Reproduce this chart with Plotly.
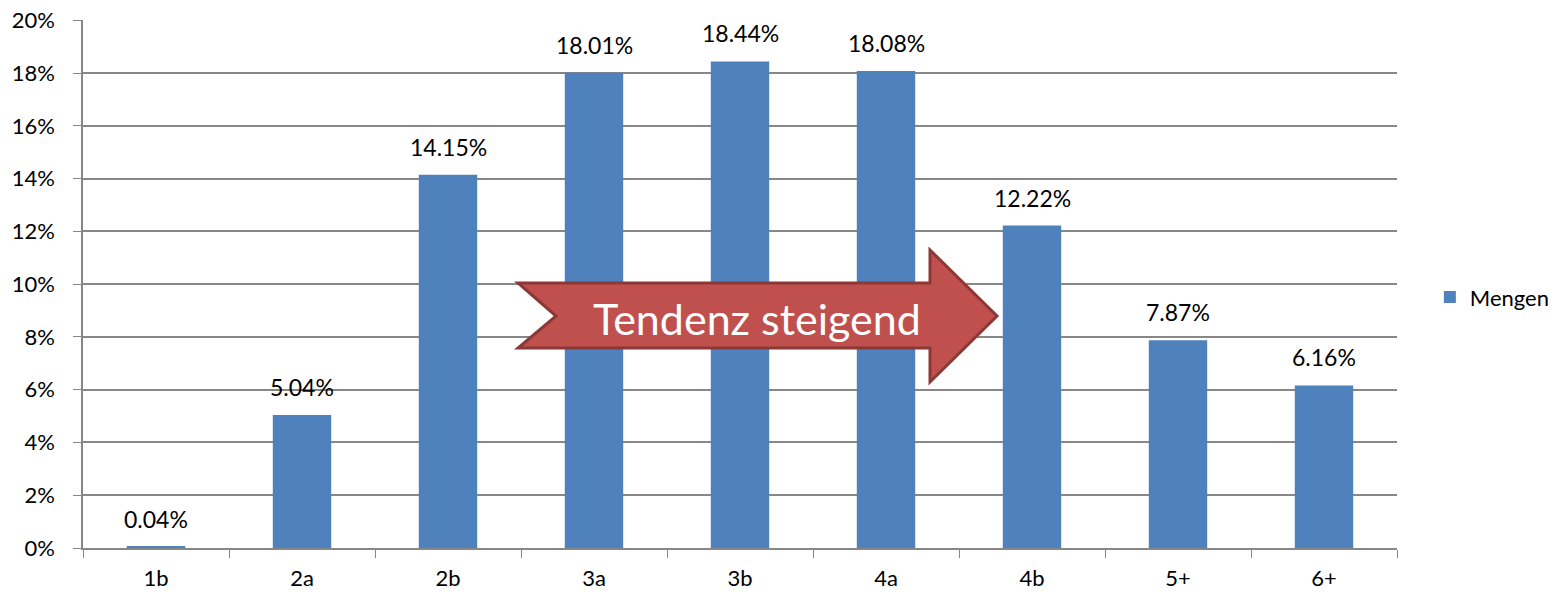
import plotly.graph_objects as go

kategorien = ["1b", "2a", "2b", "3a", "3b", "4a", "4b", "5+", "6+"]
mengen = [0.04, 5.04, 14.15, 18.01, 18.44, 18.08, 12.22, 7.87, 6.16]
labels = ["0.04%", "5.04%", "14.15%", "18.01%", "18.44%", "18.08%", "12.22%", "7.87%", "6.16%"]
y_ticks = [0, 2, 4, 6, 8, 10, 12, 14, 16, 18, 20]
y_ticktext = [f"{v}%" for v in y_ticks]

font = "Lato, 'Open Sans', sans-serif"

fig = go.Figure()
fig.add_trace(go.Bar(x=kategorien, y=mengen, name="Mengen",
                     marker=dict(color="#4F81BD", line=dict(width=0))))

# data labels a bit above each bar
for k, v, t in zip(kategorien, mengen, labels):
    fig.add_annotation(x=k, y=v, text=t, showarrow=False, yanchor="bottom", yshift=12,
                       font=dict(size=23, color="#000000", family=font))

# notched arrow in paper coordinates
arrow = ("M 0.3311 0.5019 L 0.6446 0.5019 L 0.6446 0.5644 L 0.6956 0.4394 "
         "L 0.6446 0.3144 L 0.6446 0.3788 L 0.3311 0.3788 L 0.3600 0.4394 Z")
fig.add_shape(type="path", path=arrow, xref="paper", yref="paper",
              fillcolor="#C0504D", line=dict(color="#8C3836", width=3), layer="above")
fig.add_annotation(text="Tendenz steigend", xref="paper", yref="paper",
                   x=0.513, y=0.435, showarrow=False,
                   font=dict(size=43, color="#FFFFFF", family=font))

fig.update_layout(
    width=1563, height=595,
    margin=dict(l=83, r=166, t=20, b=47, autoexpand=False),
    plot_bgcolor="#FFFFFF", paper_bgcolor="#FFFFFF",
    bargap=0.6,
    showlegend=True,
    legend=dict(x=1.025, xanchor="left", y=0.475, yanchor="middle",
                font=dict(size=22, family=font, color="#000000")),
    font=dict(family=font, size=22, color="#000000"),
)
fig.update_xaxes(showline=True, linecolor="#878787", linewidth=1.5, automargin=False,
                 ticks="outside", tickson="boundaries", ticklen=8, tickcolor="#878787",
                 ticklabelstandoff=10, tickfont=dict(size=22))
fig.update_yaxes(range=[0, 20.01], tickvals=y_ticks, ticktext=y_ticktext, automargin=False,
                 showgrid=True, gridcolor="#878787", gridwidth=1.5,
                 showline=True, linecolor="#878787", linewidth=1.5,
                 ticks="outside", ticklen=8, tickcolor="#878787",
                 ticklabeloverflow="allow",
                 ticklabelstandoff=14, zeroline=False, tickfont=dict(size=22))

# drop the browser's default body margin so the figure sits at the page corner
fig.write_html("out.html", config={"displayModeBar": False},
               post_script="document.body.style.margin='0';")
